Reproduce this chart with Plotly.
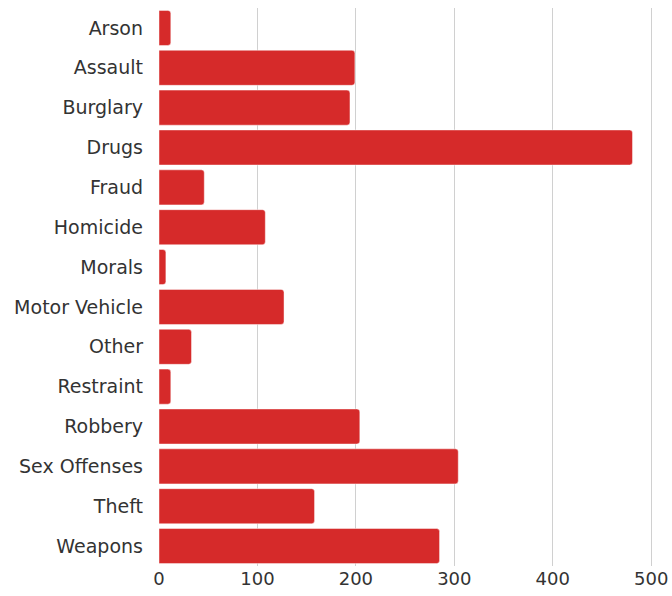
import plotly.graph_objects as go

categories = ["Arson", "Assault", "Burglary", "Drugs", "Fraud", "Homicide", "Morals",
              "Motor Vehicle", "Other", "Restraint", "Robbery", "Sex Offenses", "Theft", "Weapons"]
counts = [12, 199, 194, 481, 46, 108, 7, 127, 33, 12, 204, 304, 158, 285]

fig = go.Figure(go.Bar(
    x=counts, y=categories, orientation="h",
    marker=dict(color="#d62a2a", line=dict(color="rgba(255,255,255,0.45)", width=1)),
    width=0.88,
))
fig.update_layout(
    width=672, height=596,
    margin=dict(l=159, r=8, t=8, b=30, autoexpand=False),
    paper_bgcolor="white", plot_bgcolor="white",
    font=dict(family="DejaVu Sans", size=19, color="#333333"),
    barcornerradius=3,
    showlegend=False,
)
fig.update_xaxes(range=[0, 513], tickvals=[0, 100, 200, 300, 400, 500],
                 showgrid=True, gridcolor="#d0d0d0", gridwidth=1, zeroline=False,
                 showline=False, automargin=False, tickfont=dict(size=18))
fig.update_yaxes(autorange="reversed", showgrid=False, zeroline=False, showline=False,
                 ticklabelstandoff=15, automargin=False)
fig.write_html("out.html", config={"displayModeBar": False},
               post_script="document.body.style.margin='0';document.body.style.overflow='hidden';"
                           "document.documentElement.style.overflow='hidden';")
